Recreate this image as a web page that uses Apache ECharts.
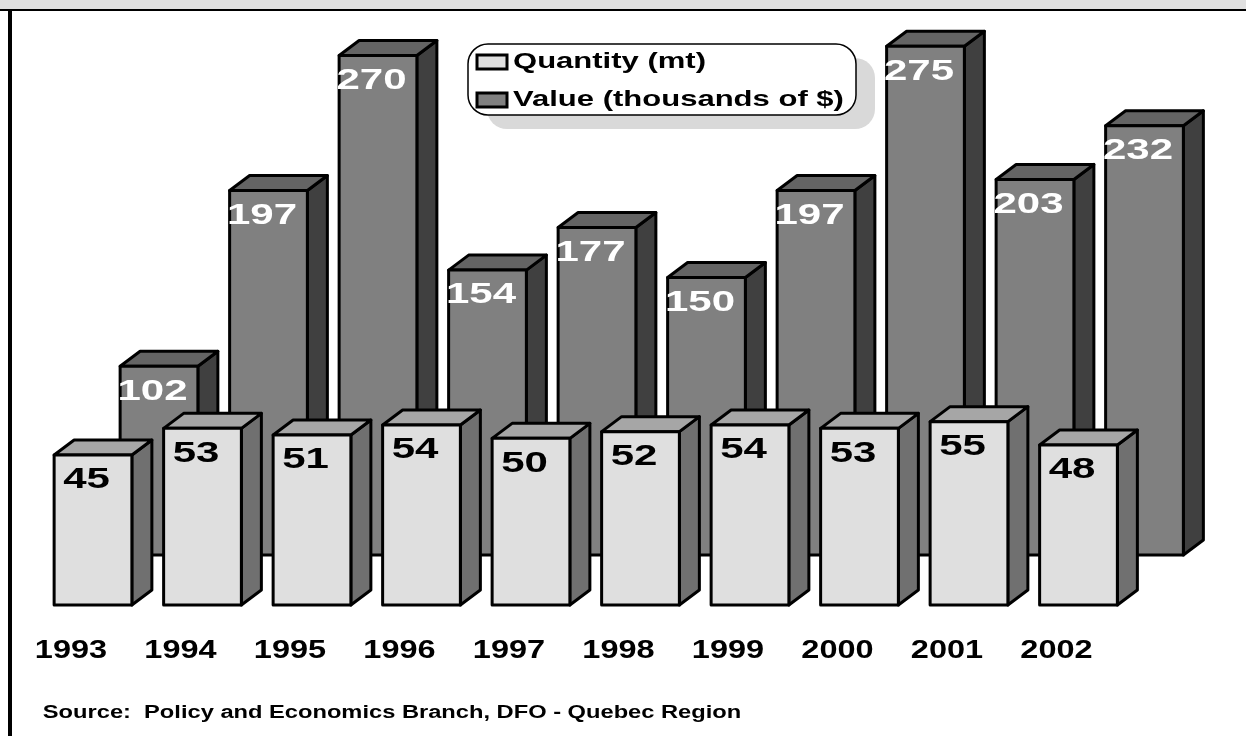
<!DOCTYPE html>
<html>
<head>
<meta charset="utf-8">
<style>
  html, body { margin: 0; padding: 0; background: #fff; }
  #main { width: 1246px; height: 736px; }
</style>
<script src="https://cdn.jsdelivr.net/npm/echarts@6/dist/echarts.min.js"></script>
</head>
<body>
<div id="main"></div>
<script>
const years = ['1993', '1994', '1995', '1996', '1997', '1998', '1999', '2000', '2001', '2002'];
const quantity = [45, 53, 51, 54, 50, 52, 54, 53, 55, 48];
const value = [102, 197, 270, 154, 177, 150, 197, 275, 203, 232];
const seriesNames = ['Quantity (mt)', 'Value (thousands of $)'];
const sourceText = 'Source:  Policy and Economics Branch, DFO - Quebec Region';

const FONT = '"Liberation Sans", Arial, sans-serif';
const DEPTH_X = 20;
const DEPTH_Y = 15;
const quantityColors = { front: '#dfdfdf', top: '#a6a6a6', side: '#707070' };
const valueColors = { front: '#808080', top: '#646464', side: '#404040' };

// draws one fake-3d box, with the number stamped on the front face
function box3d(api, colors, textColor, showYear) {
  const i = api.value(0);
  const top = api.coord([i, api.value(1)]);
  const base = api.coord([i, 0]);
  const w = api.size([1, 0])[0] * 0.71;
  const l = top[0] - w / 2;
  const r = top[0] + w / 2;
  const line = { stroke: '#000', lineWidth: 3, lineJoin: 'round' };

  const children = [
    { type: 'polygon', shape: { points: [[r, top[1]], [r + DEPTH_X, top[1] - DEPTH_Y], [r + DEPTH_X, base[1] - DEPTH_Y], [r, base[1]]] },
      style: Object.assign({ fill: colors.side }, line) },
    { type: 'polygon', shape: { points: [[l, top[1]], [l + DEPTH_X, top[1] - DEPTH_Y], [r + DEPTH_X, top[1] - DEPTH_Y], [r, top[1]]] },
      style: Object.assign({ fill: colors.top }, line) },
    { type: 'rect', shape: { x: l, y: top[1], width: w, height: base[1] - top[1] },
      style: Object.assign({ fill: colors.front }, line) },
    { type: 'text', x: top[0] - 6.5, y: top[1] + 25, scaleX: 1.4,
      style: { text: String(api.value(1)), fill: textColor, fontSize: 30, fontWeight: 'bold', fontFamily: FONT, align: 'center', verticalAlign: 'middle' } }
  ];
  if (showYear) {
    children.push({ type: 'text', x: top[0] - 22, y: base[1] + 46, scaleX: 1.3,
      style: { text: years[i], fill: '#000', fontSize: 25, fontWeight: 'bold', fontFamily: FONT, align: 'center', verticalAlign: 'middle' } });
  }
  return { type: 'group', children: children };
}

// legend is drawn by hand because the stretched lettering can't be done in the built-in one
function legendRow(name, color, y) {
  return [
    { type: 'rect', z: 21, shape: { x: 477, y: y - 7, width: 30, height: 14 }, style: { fill: color, stroke: '#000', lineWidth: 3 } },
    { type: 'text', z: 21, x: 513, y: y, scaleX: 1.41,
      style: { text: name, fill: '#000', fontSize: 22, fontWeight: 'bold', fontFamily: FONT, align: 'left', verticalAlign: 'middle' } }
  ];
}

const chart = echarts.init(document.getElementById('main'));
chart.setOption({
  animation: false,
  backgroundColor: '#fff',
  graphic: [
    { type: 'rect', shape: { x: 0, y: 0, width: 1246, height: 9 }, style: { fill: '#e0e0e0' } },
    { type: 'rect', shape: { x: 0, y: 9, width: 1246, height: 2 }, style: { fill: '#000' } },
    { type: 'rect', shape: { x: 8, y: 9, width: 4, height: 727 }, style: { fill: '#000' } },
    { type: 'text', x: 392, y: 713, scaleX: 1.315, z: 10,
      style: { text: sourceText, fill: '#000', fontSize: 18, fontWeight: 'bold', fontFamily: FONT, align: 'center', verticalAlign: 'middle' } },
    { type: 'rect', z: 20, shape: { x: 487, y: 58, width: 388, height: 71, r: 20 }, style: { fill: '#d9d9d9' } },
    { type: 'rect', z: 20, shape: { x: 468, y: 44, width: 388, height: 71, r: 20 }, style: { fill: '#fff', stroke: '#000', lineWidth: 1.5 } }
  ].concat(legendRow(seriesNames[0], quantityColors.front, 62), legendRow(seriesNames[1], valueColors.front, 100)),
  grid: [
    { left: 38.25, width: 1095, top: 405, height: 200 },
    { left: 104.25, width: 1095, top: 37, height: 518 }
  ],
  xAxis: [
    { type: 'category', gridIndex: 0, data: years, axisLine: { show: false }, axisTick: { show: false }, axisLabel: { show: false } },
    { type: 'category', gridIndex: 1, data: years, axisLine: { show: false }, axisTick: { show: false }, axisLabel: { show: false } }
  ],
  yAxis: [
    { type: 'value', gridIndex: 0, min: 0, max: 60, show: false },
    { type: 'value', gridIndex: 1, min: 0, max: 280, show: false }
  ],
  series: [
    {
      name: seriesNames[1],
      type: 'custom',
      xAxisIndex: 1,
      yAxisIndex: 1,
      z: 2,
      clip: false,
      data: value.map((v, i) => [i, v]),
      renderItem: (params, api) => box3d(api, valueColors, '#fff', false)
    },
    {
      name: seriesNames[0],
      type: 'custom',
      xAxisIndex: 0,
      yAxisIndex: 0,
      z: 3,
      clip: false,
      data: quantity.map((v, i) => [i, v]),
      renderItem: (params, api) => box3d(api, quantityColors, '#000', true)
    }
  ]
});
</script>
</body>
</html>
